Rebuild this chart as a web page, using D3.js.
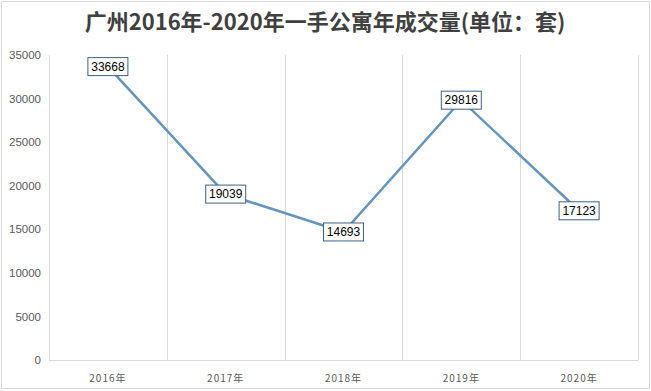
<!DOCTYPE html>
<html><head><meta charset="utf-8">
<script src="https://cdn.jsdelivr.net/npm/d3@7"></script>
<style>body{margin:0;background:#fff;}svg{display:block;}</style>
</head><body>
<script>
const title = "广州2016年-2020年一手公寓年成交量(单位：套)";
const categories = ["2016年","2017年","2018年","2019年","2020年"];
const values = [33668, 19039, 14693, 29816, 17123];
const yTicks = [0,5000,10000,15000,20000,25000,30000,35000];

const W = 651, H = 391;
const svg = d3.select("body").append("svg").attr("width", W).attr("height", H);
svg.append("rect").attr("x",1.5).attr("y",1.5).attr("width",W-3).attr("height",H-4)
  .attr("fill","#fff").attr("stroke","#d9d9d9");

const x = d3.scaleBand().domain(categories).range([49, 638]);
const y = d3.scaleLinear().domain([0, 35000]).range([360, 55]);

svg.append("text").attr("x", 325).attr("y", 30).attr("text-anchor","middle")
  .attr("font-family","'Noto Sans CJK SC', sans-serif").attr("font-weight","bold")
  .attr("font-size", 22).attr("fill","#404040").text(title);

// vertical gridlines at category boundaries
const bounds = categories.map(c => x(c)).concat([x.range()[1]]);
svg.append("g").selectAll("line").data(bounds).join("line")
  .attr("x1", d => Math.round(d)+0.5).attr("x2", d => Math.round(d)+0.5)
  .attr("y1", y(35000)).attr("y2", y(0))
  .attr("stroke","#d9d9d9").attr("stroke-width",1);
svg.append("line").attr("x1", 49).attr("x2", 638).attr("y1", y(0)+0.5).attr("y2", y(0)+0.5)
  .attr("stroke","#d9d9d9");

// y axis
const yAxis = svg.append("g").attr("transform","translate(49,0)")
  .call(d3.axisLeft(y).tickValues(yTicks).tickSize(0).tickPadding(8).tickFormat(d3.format("d")));
yAxis.select(".domain").remove();
yAxis.selectAll("text").attr("font-family","'Liberation Sans', Arial, sans-serif")
  .attr("font-size", 11.5).attr("fill","#595959");

// x axis
const xAxis = svg.append("g").attr("transform","translate(0,"+y(0)+")")
  .call(d3.axisBottom(x).tickSize(0).tickPadding(15));
xAxis.select(".domain").remove();
xAxis.selectAll("text").attr("font-family","'Noto Sans CJK SC', sans-serif")
  .attr("font-size", 10).attr("fill","#595959").attr("letter-spacing","1px");

// line
const line = d3.line().x((d,i) => x(categories[i]) + x.bandwidth()/2).y(d => y(d));
svg.append("path").datum(values).attr("d", line).attr("fill","none")
  .attr("stroke","#6295c4").attr("stroke-width",2.5);

// labels
const lg = svg.append("g").selectAll("g").data(values).join("g")
  .attr("transform",(d,i) => `translate(${x(categories[i]) + x.bandwidth()/2},${y(d)})`);
lg.append("rect").attr("x",-20).attr("y",-9).attr("width",40).attr("height",18)
  .attr("fill","#fff").attr("stroke","#3f5f80").attr("stroke-width",1);
lg.append("text").attr("text-anchor","middle").attr("dy","0.35em")
  .attr("font-family","'Liberation Sans', Arial, sans-serif").attr("font-size",12)
  .attr("fill","#000").text(d => d);
</script>
</body></html>
